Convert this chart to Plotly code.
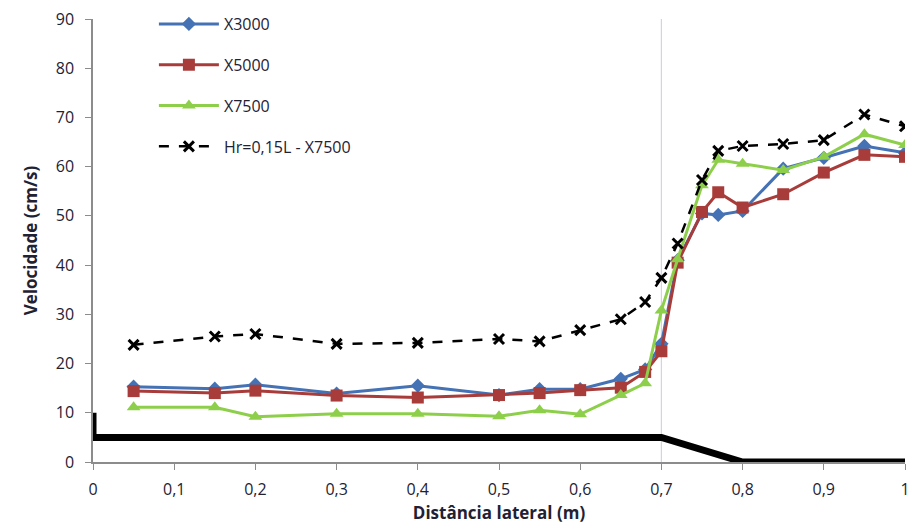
import plotly.graph_objects as go

x_pos = [0.05, 0.15, 0.2, 0.3, 0.4, 0.5, 0.55, 0.6, 0.65, 0.68, 0.7, 0.72, 0.75, 0.77, 0.8, 0.85, 0.9, 0.95, 1.0]
x3000 = [15.3, 14.9, 15.7, 13.9, 15.5, 13.6, 14.8, 14.8, 16.9, 18.8, 24.0, 41.0, 50.5, 50.2, 51.0, 59.6, 61.8, 64.2, 62.8]
x5000 = [14.4, 14.0, 14.5, 13.5, 13.1, 13.6, 14.0, 14.6, 15.1, 18.3, 22.5, 40.5, 50.8, 54.8, 51.7, 54.4, 58.8, 62.4, 62.0]
x7500 = [11.1, 11.1, 9.2, 9.8, 9.8, 9.3, 10.5, 9.7, 13.6, 16.0, 30.8, 41.2, 56.2, 61.4, 60.6, 59.3, 62.0, 66.6, 64.4]
hr_x7500 = [23.8, 25.5, 26.0, 24.0, 24.2, 25.0, 24.5, 26.8, 29.0, 32.5, 37.4, 44.4, 57.3, 63.2, 64.2, 64.6, 65.4, 70.6, 68.2]

bed_x = [0, 0, 0.7, 0.8, 1.0]
bed_y = [10, 5, 5, 0, 0]

x_ticks = [0, 0.1, 0.2, 0.3, 0.4, 0.5, 0.6, 0.7, 0.8, 0.9, 1]
x_ticklabels = ["0", "0,1", "0,2", "0,3", "0,4", "0,5", "0,6", "0,7", "0,8", "0,9", "1"]

FONT = "Open Sans, Liberation Sans, sans-serif"
TXT = "#1f2233"

fig = go.Figure()

# vertical reference line at 0.7
fig.add_trace(go.Scatter(x=[0.7, 0.7], y=[0, 90], mode="lines",
                         line=dict(color="#d4d4dc", width=1.2),
                         showlegend=False, hoverinfo="skip"))

fig.add_trace(go.Scatter(x=x_pos, y=x3000, name="X3000", mode="lines+markers",
                         line=dict(color="#4472b4", width=3),
                         marker=dict(symbol="diamond", size=11, color="#4472b4"),
                         legendgroup="a"))
fig.add_trace(go.Scatter(x=x_pos, y=x5000, name="X5000", mode="lines+markers",
                         line=dict(color="#a83c3a", width=3),
                         marker=dict(symbol="square", size=12, color="#a83c3a"),
                         legendgroup="b"))
fig.add_trace(go.Scatter(x=x_pos, y=x7500, name="X7500", mode="lines+markers",
                         line=dict(color="#8dcf4a", width=3),
                         marker=dict(symbol="triangle-up", size=12, color="#8dcf4a"),
                         legendgroup="c"))
fig.add_trace(go.Scatter(x=x_pos, y=hr_x7500, name="Hr=0,15L - X7500", mode="lines+markers",
                         line=dict(color="black", width=2.5, dash="10px,10px"),
                         marker=dict(symbol="x-thin", size=10,
                                     line=dict(color="black", width=3)),
                         legendgroup="d"))

# channel bed
fig.add_trace(go.Scatter(x=bed_x, y=bed_y, mode="lines",
                         line=dict(color="black", width=7),
                         showlegend=False, hoverinfo="skip"))

fig.update_layout(
    width=917, height=529,
    margin=dict(l=93, r=7, t=15, b=67),
    paper_bgcolor="white", plot_bgcolor="white",
    font=dict(family=FONT, size=16, color=TXT),
    showlegend=True,
    legend=dict(x=0.075, y=1.027, xanchor="left", yanchor="top",
                bgcolor="rgba(0,0,0,0)", font=dict(size=16, color=TXT),
                tracegroupgap=17, itemwidth=60, traceorder="grouped"),
    xaxis=dict(range=[0, 1], tickvals=x_ticks, ticktext=x_ticklabels,
               showgrid=False, zeroline=False, showline=True, linecolor="#8c8c8c",
               linewidth=1.5, ticks="outside", ticklen=6, tickcolor="#8c8c8c",
               tickfont=dict(size=16), ticklabelstandoff=6,
               title=dict(text="<b>Distância lateral (m)</b>", font=dict(size=17), standoff=8)),
    yaxis=dict(range=[0, 90], tickvals=list(range(0, 91, 10)),
               showgrid=False, zeroline=False, showline=True, linecolor="#8c8c8c",
               linewidth=1.5, ticks="outside", ticklen=6, tickcolor="#8c8c8c",
               tickfont=dict(size=16), ticklabelstandoff=8,
               title=dict(text="<b>Velocidade (cm/s)</b>", font=dict(size=17), standoff=14)),
)

fig.write_html("out.html")
